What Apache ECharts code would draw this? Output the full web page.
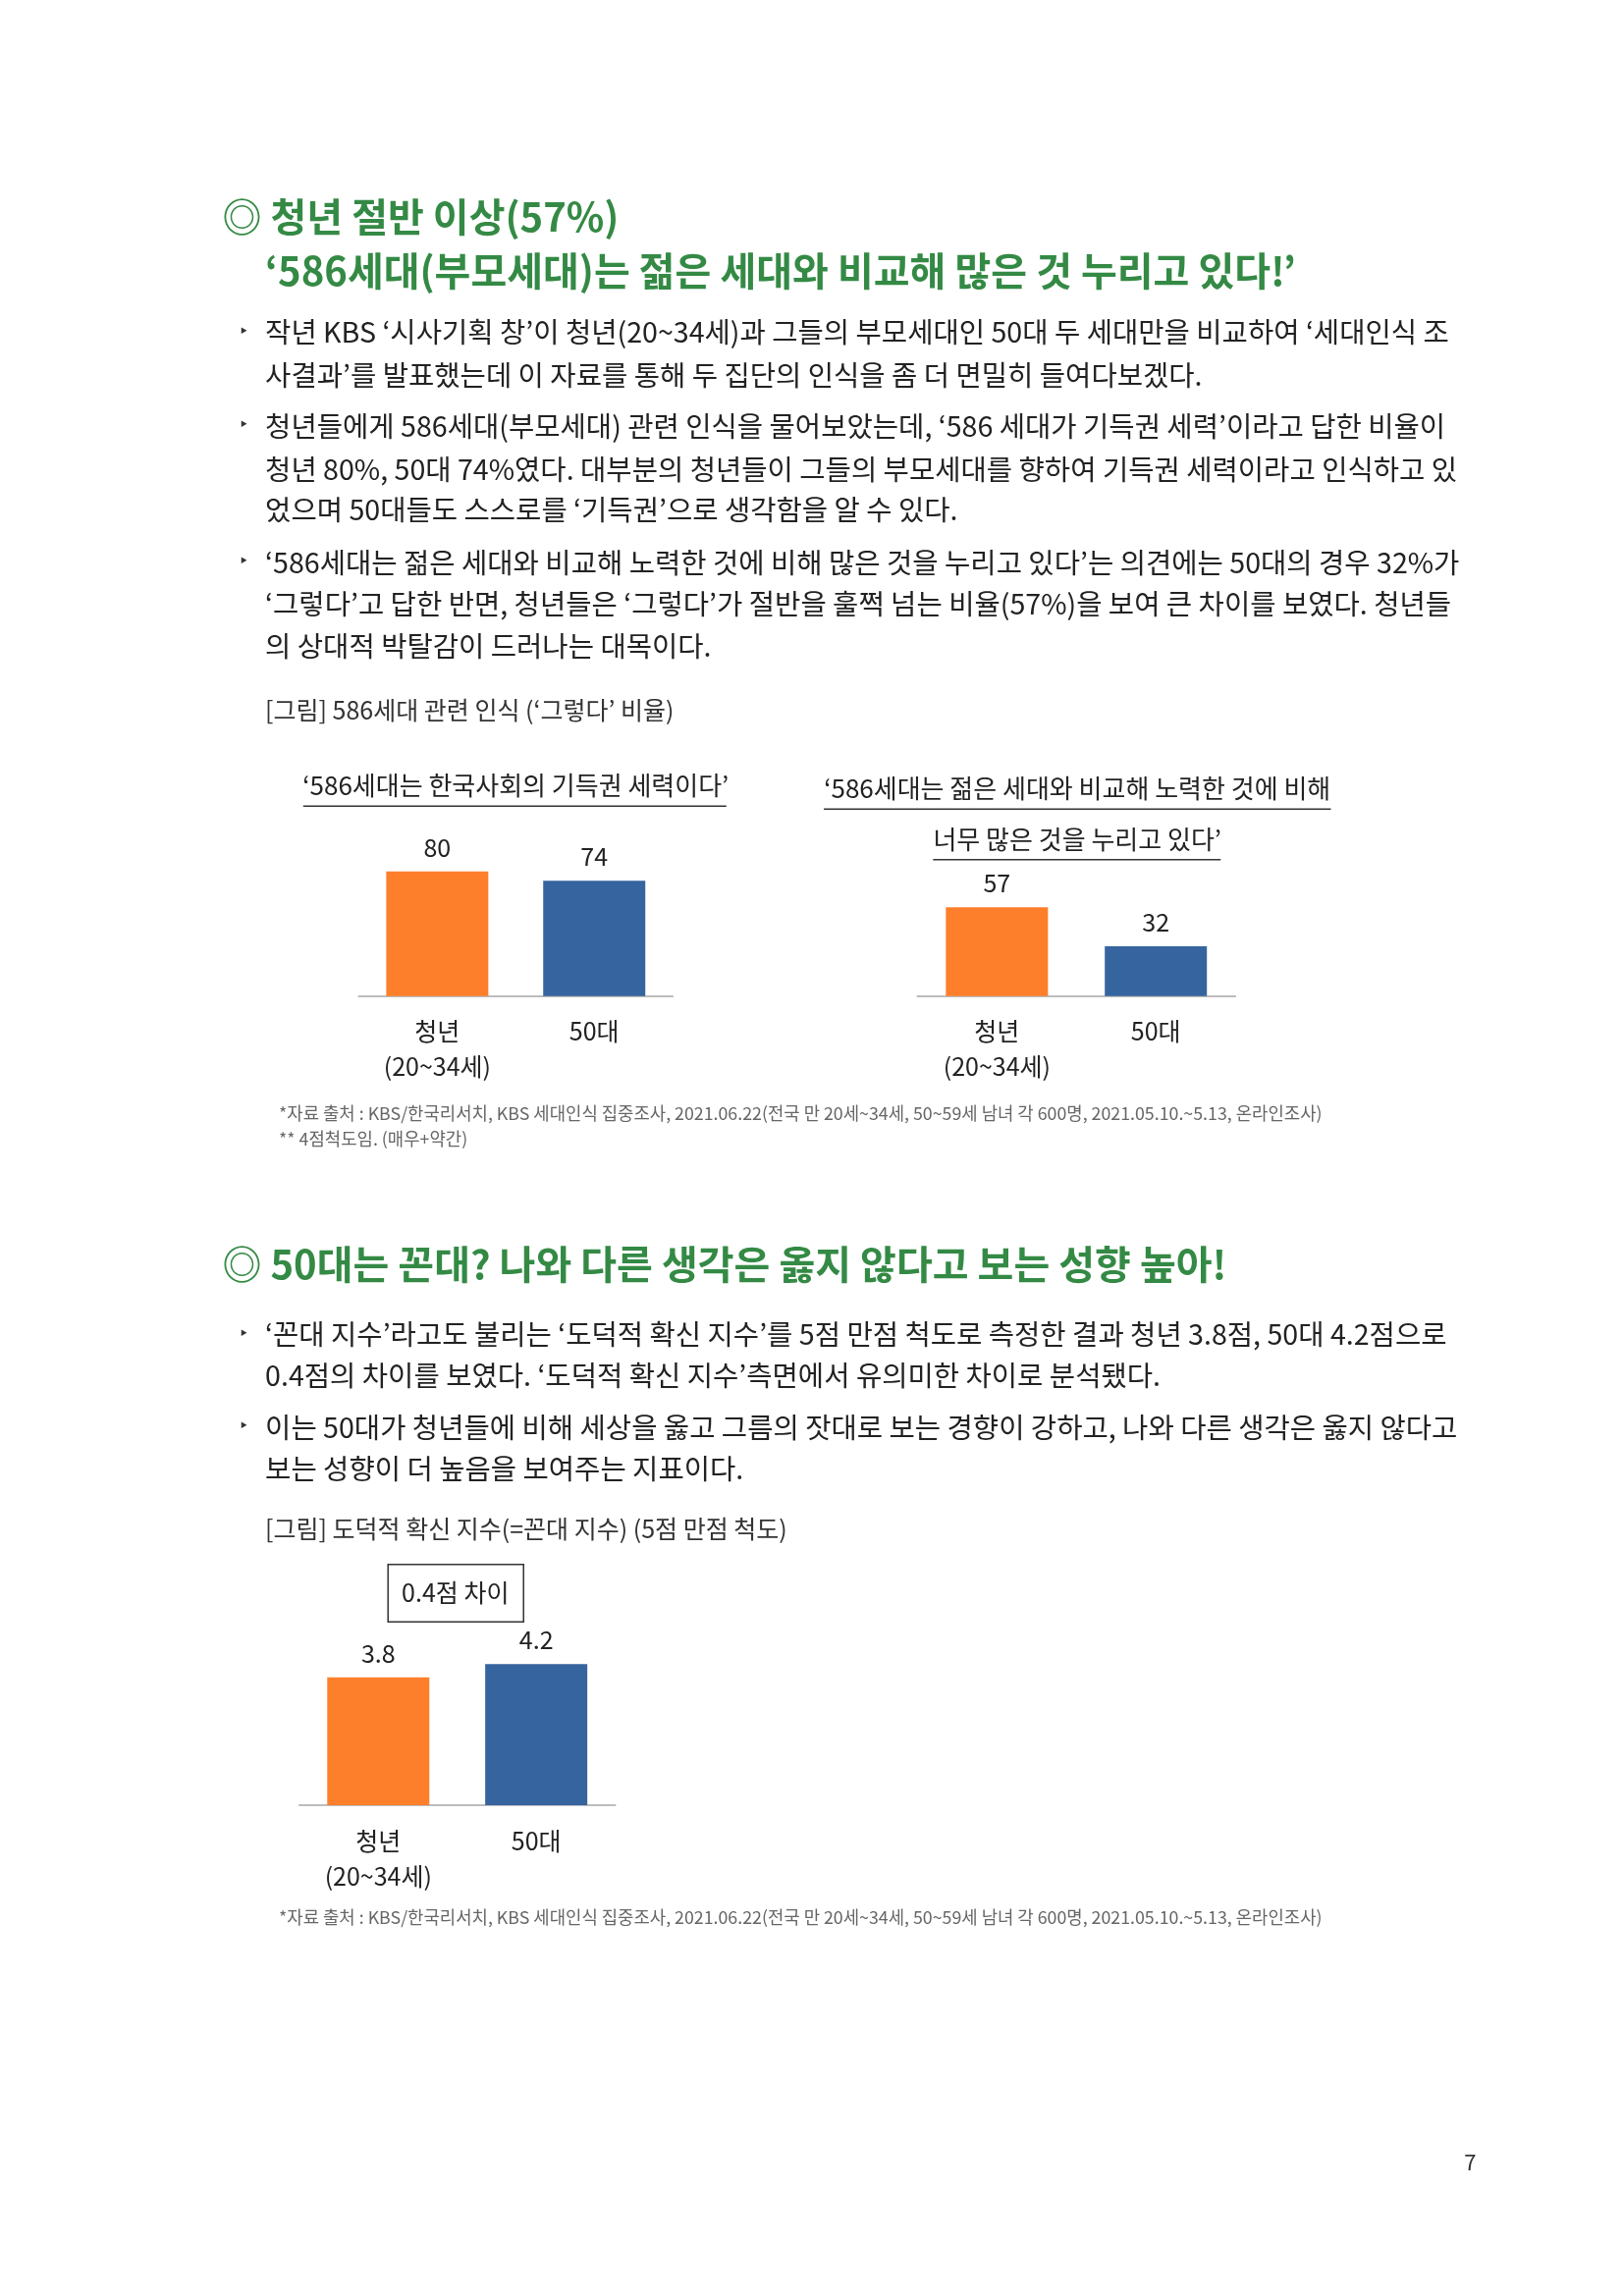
<!DOCTYPE html>
<html><head><meta charset="utf-8">
<script src="https://cdn.jsdelivr.net/npm/echarts@6/dist/echarts.min.js"></script>
<style>html,body{margin:0;padding:0;background:#fff}#c{width:1653px;height:2339px}</style>
</head><body><div id="c"></div>
<script>
const categories = ['청년\n(20~34세)', '50대'];
const chart1Values = [80, 74];
const chart2Values = [57, 32];
const chart3Values = [3.8, 4.2];
const barColors = ['#fd7f2c', '#36649f'];

const F = '"Noto Sans CJK KR","Noto Sans",sans-serif';
const GREEN = '#348a45';
const BODY = '#222';
const K = 0.993;
const s = v => v * K;
const ch = echarts.init(document.getElementById('c'), null, {renderer:'canvas'});

function T(x, y, text, size, opt) {
  opt = opt || {};
  return {type:'text', x:s(x), y:s(y), style:{text, font:(opt.weight||'normal')+' '+size+'px '+F, fill:opt.fill||BODY, textAlign:opt.align||'left', textVerticalAlign:'middle'}};
}
function L(x1,y1,x2,y2,c){return {type:'line',shape:{x1:s(x1),y1:s(y1),x2:s(x2),y2:s(y2)},style:{stroke:c||'#333',lineWidth:1.5}};}

const bodySize = 28.6;
const g = [];
g.push(T(228,222,'◎ 청년 절반 이상(57%)',40,{fill:GREEN,weight:'bold'}));
g.push(T(272,278,'‘586세대(부모세대)는 젊은 세대와 비교해 많은 것 누리고 있다!’',40,{fill:GREEN,weight:'bold'}));
const paras = [
  [341,'작년 KBS ‘시사기획 창’이 청년(20~34세)과 그들의 부모세대인 50대 두 세대만을 비교하여 ‘세대인식 조'],
  [385,'사결과’를 발표했는데 이 자료를 통해 두 집단의 인식을 좀 더 면밀히 들여다보겠다.'],
  [437,'청년들에게 586세대(부모세대) 관련 인식을 물어보았는데, ‘586 세대가 기득권 세력’이라고 답한 비율이'],
  [481,'청년 80%, 50대 74%였다. 대부분의 청년들이 그들의 부모세대를 향하여 기득권 세력이라고 인식하고 있'],
  [523,'었으며 50대들도 스스로를 ‘기득권’으로 생각함을 알 수 있다.'],
  [577,'‘586세대는 젊은 세대와 비교해 노력한 것에 비해 많은 것을 누리고 있다’는 의견에는 50대의 경우 32%가'],
  [619,'‘그렇다’고 답한 반면, 청년들은 ‘그렇다’가 절반을 훌쩍 넘는 비율(57%)을 보여 큰 차이를 보였다. 청년들'],
  [663,'의 상대적 박탈감이 드러나는 대목이다.'],
  [1369,'‘꼰대 지수’라고도 불리는 ‘도덕적 확신 지수’를 5점 만점 척도로 측정한 결과 청년 3.8점, 50대 4.2점으로'],
  [1411,'0.4점의 차이를 보였다. ‘도덕적 확신 지수’측면에서 유의미한 차이로 분석됐다.'],
  [1464,'이는 50대가 청년들에 비해 세상을 옳고 그름의 잣대로 보는 경향이 강하고, 나와 다른 생각은 옳지 않다고'],
  [1507,'보는 성향이 더 높음을 보여주는 지표이다.']
];
paras.forEach(p=>g.push(T(272,p[0],p[1],bodySize)));
[341,437,577,1369,1464].forEach(y=>g.push(T(246,y-2,'‣',22,{fill:'#333'})));
g.push(T(272,729,'[그림] 586세대 관련 인식 (‘그렇다’ 비율)',25,{fill:'#333'}));
g.push(T(529,806,'‘586세대는 한국사회의 기득권 세력이다’',26,{align:'center'}));
g.push(L(311,827,745,827));
g.push(T(1105,809,'‘586세대는 젊은 세대와 비교해 노력한 것에 비해',26,{align:'center'}));
g.push(L(845,830,1365,830));
g.push(T(1105,861,'너무 많은 것을 누리고 있다’',26,{align:'center'}));
g.push(L(957,882,1252,882));
g.push(T(286,1142,'*자료 출처 : KBS/한국리서치, KBS 세대인식 집중조사, 2021.06.22(전국 만 20세~34세, 50~59세 남녀 각 600명, 2021.05.10.~5.13, 온라인조사)',17.8,{fill:'#666'}));
g.push(T(286,1168,'** 4점척도임. (매우+약간)',17.8,{fill:'#666'}));
g.push(T(228,1297,'◎ 50대는 꼰대? 나와 다른 생각은 옳지 않다고 보는 성향 높아!',40,{fill:GREEN,weight:'bold'}));
g.push(T(272,1568,'[그림] 도덕적 확신 지수(=꼰대 지수) (5점 만점 척도)',25,{fill:'#333'}));
g.push({type:'rect',shape:{x:s(398),y:s(1605),width:s(139),height:s(59)},style:{fill:'none',stroke:'#333',lineWidth:1.5}});
g.push(T(467,1634,'0.4점 차이',25,{align:'center'}));
g.push(T(286,1967,'*자료 출처 : KBS/한국리서치, KBS 세대인식 집중조사, 2021.06.22(전국 만 20세~34세, 50~59세 남녀 각 600명, 2021.05.10.~5.13, 온라인조사)',17.8,{fill:'#666'}));
g.push(T(1508,2218,'7',22,{fill:'#333',align:'center'}));

const grids = [
  {left:s(368), top:s(862), width:s(322), height:s(160)},
  {left:s(941), top:s(862), width:s(326), height:s(160)},
  {left:s(307), top:s(1679.5), width:s(324), height:s(172.5)}
];
const maxes = [100, 100, 5];
const vals = [chart1Values, chart2Values, chart3Values];
ch.setOption({
  animation:false,
  graphic:g,
  grid: grids,
  xAxis: grids.map((_,i)=>({type:'category', gridIndex:i, data:categories,
    axisLine:{lineStyle:{color:'#bdbdbd',width:2}}, axisTick:{show:false},
    axisLabel:{color:'#222', fontSize:25, fontFamily:F, margin:18, lineHeight:36}})),
  yAxis: grids.map((_,i)=>({type:'value', gridIndex:i, min:0, max:maxes[i], show:false})),
  series: vals.map((v,i)=>({type:'bar', xAxisIndex:i, yAxisIndex:i, barWidth:104,
    data:v.map((d,j)=>({value:d, itemStyle:{color:barColors[j]}})),
    label:{show:true, position:'top', distance:12, color:'#222', fontSize:25, fontFamily:F}}))
});
</script></body></html>
